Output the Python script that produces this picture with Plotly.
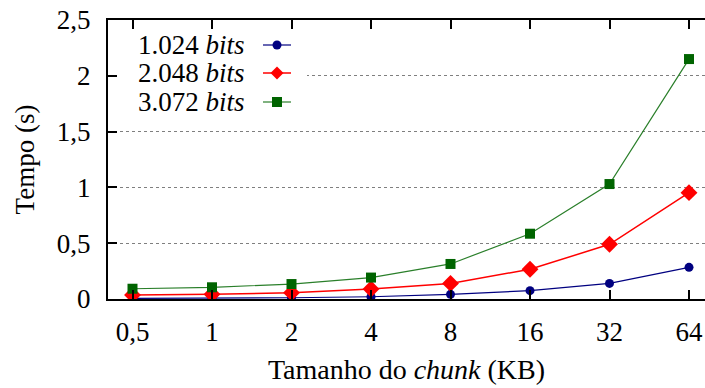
import plotly.graph_objects as go

chunk_labels = ["0,5", "1", "2", "4", "8", "16", "32", "64"]
t_1024 = [0.006, 0.008, 0.011, 0.02, 0.042, 0.075, 0.14, 0.284]
t_2048 = [0.036, 0.042, 0.056, 0.09, 0.14, 0.266, 0.49, 0.953]
t_3072 = [0.092, 0.105, 0.134, 0.192, 0.314, 0.585, 1.03, 2.15]
series_names = ["1.024 <i>bits</i>", "2.048 <i>bits</i>", "3.072 <i>bits</i>"]
y_tickvals = [0, 0.5, 1, 1.5, 2, 2.5]
y_ticktext = ["0", "0,5", "1", "1,5", "2", "2,5"]

FONT = "Liberation Serif"
FS = 27
xpos = list(range(len(chunk_labels)))

styles = [
    dict(line_color="#000080", marker_color="#000080", symbol="circle", size=9, width=1.2),
    dict(line_color="#ff0000", marker_color="#ff0000", symbol="diamond", size=13, width=1.5),
    dict(line_color="#2a7f2a", marker_color="#006400", symbol="square", size=10, width=1.2),
]
data = [t_1024, t_2048, t_3072]

fig = go.Figure()
for vals, st, name in zip(data, styles, series_names):
    fig.add_trace(go.Scatter(
        x=xpos, y=vals, mode="lines+markers", name=name, showlegend=False,
        line=dict(color=st["line_color"], width=st["width"]),
        marker=dict(color=st["marker_color"], symbol=st["symbol"], size=st["size"], line=dict(width=0)),
    ))

def dx(px):
    return (px - 132.5) / 79.5
def dy(py):
    return (299 - py) / 111.6

shapes = []
shapes.append(dict(type="rect", xref="x", yref="y", x0=dx(108), x1=dx(307), y0=dy(118), y1=2.5,
                   fillcolor="white", line=dict(width=0), layer="between"))
annotations = []
rows_py = [45, 73, 102]
for py, st, name in zip(rows_py, styles, series_names):
    annotations.append(dict(x=dx(247), y=dy(py), xref="x", yref="y", text=name, showarrow=False,
                            xanchor="right", yanchor="middle", font=dict(family=FONT, size=FS, color="black")))
    shapes.append(dict(type="line", xref="x", yref="y", x0=dx(263), x1=dx(291), y0=dy(py), y1=dy(py),
                       line=dict(color=st["line_color"], width=st["width"])))
    cx, cy = 277, py
    if st["symbol"] == "circle":
        r = 4.5
        shapes.append(dict(type="circle", xref="x", yref="y", x0=dx(cx - r), x1=dx(cx + r),
                           y0=dy(cy + r), y1=dy(cy - r), fillcolor=st["marker_color"], line=dict(width=0)))
    elif st["symbol"] == "square":
        r = 5
        shapes.append(dict(type="rect", xref="x", yref="y", x0=dx(cx - r), x1=dx(cx + r),
                           y0=dy(cy + r), y1=dy(cy - r), fillcolor=st["marker_color"], line=dict(width=0)))
    else:
        r = 6.5
        path = (f"M {dx(cx)} {dy(cy - r)} L {dx(cx + r)} {dy(cy)} L {dx(cx)} {dy(cy + r)} "
                f"L {dx(cx - r)} {dy(cy)} Z")
        shapes.append(dict(type="path", xref="x", yref="y", path=path,
                           fillcolor=st["marker_color"], line=dict(width=0)))

fig.update_layout(
    template="none",
    width=705, height=388,
    margin=dict(l=108, r=0, t=20, b=89, autoexpand=False),
    paper_bgcolor="white", plot_bgcolor="white",
    font=dict(family=FONT, size=FS, color="black"),
    shapes=shapes, annotations=annotations,
    xaxis=dict(
        range=[dx(108), dx(705)], tickvals=xpos, ticktext=chunk_labels,
        tickfont=dict(family=FONT, size=FS, color="black"),
        showgrid=False, zeroline=False, showline=True, linecolor="black", linewidth=2,
        mirror="ticks", ticks="inside", ticklen=9, tickwidth=1.5, tickcolor="black",
        ticklabelstandoff=8,
        title=dict(text="Tamanho do <i>chunk</i> (KB)", standoff=13, font=dict(family=FONT, size=28, color="black")),
    ),
    yaxis=dict(
        range=[0, 2.5], tickvals=y_tickvals, ticktext=y_ticktext,
        tickfont=dict(family=FONT, size=FS, color="black"),
        showgrid=True, gridcolor="#7f7f7f", griddash="dot", gridwidth=1,
        zeroline=False, showline=True, linecolor="black", linewidth=2, mirror=False,
        ticks="inside", ticklen=9, tickwidth=1.5, tickcolor="black",
        ticklabelstandoff=10,
        title=dict(text="Tempo (s)", standoff=14, font=dict(family=FONT, size=FS, color="black")),
    ),
)

fig.write_html("out.html")
